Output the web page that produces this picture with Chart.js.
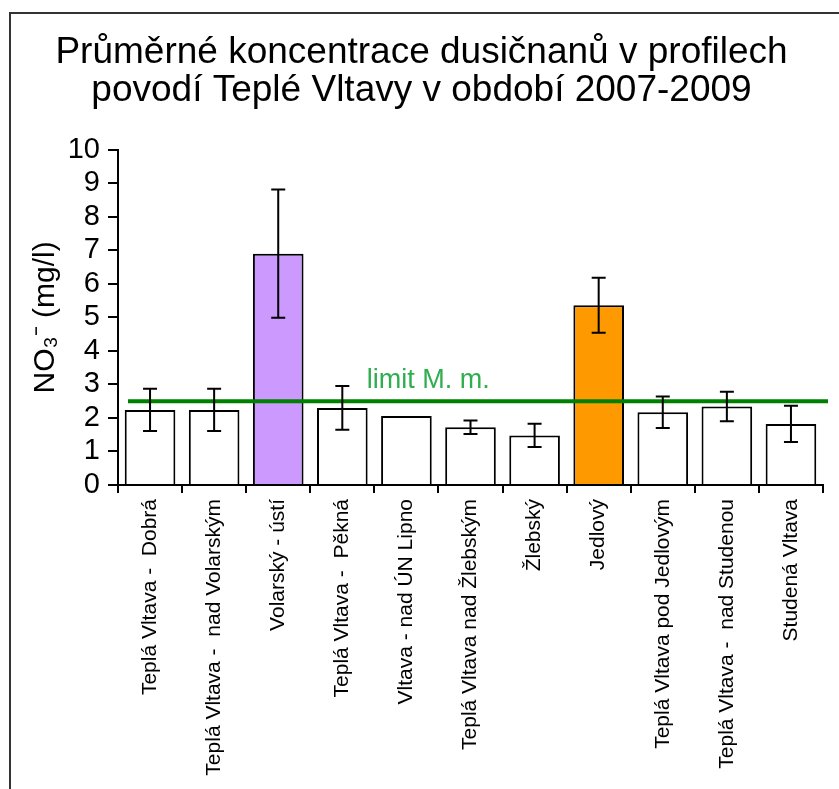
<!DOCTYPE html>
<html lang="cs">
<head>
<meta charset="UTF-8">
<title>Průměrné koncentrace dusičnanů</title>
<script src="https://cdn.jsdelivr.net/npm/chart.js"></script>
<style>
  body { margin: 0; background: #fff; }
</style>
</head>
<body>
<canvas id="chart" width="839" height="789"></canvas>
<script>
// profily (kategorie na ose x)
const categories = [
  "Teplá Vltava -  Dobrá",
  "Teplá Vltava -  nad Volarským",
  "Volarský - ústí",
  "Teplá Vltava -  Pěkná",
  "Vltava - nad ÚN Lipno",
  "Teplá Vltava nad Žlebským",
  "Žlebský",
  "Jedlový",
  "Teplá Vltava pod Jedlovým",
  "Teplá Vltava -  nad Studenou",
  "Studená Vltava"
];
// průměr NO3- (mg/l) a směrodatná odchylka
const means  = [2.24, 2.24, 6.90, 2.30, 2.06, 1.72, 1.48, 5.36, 2.17, 2.34, 1.82];
const errors = [0.63, 0.63, 1.91, 0.65, 0,    0.20, 0.35, 0.82, 0.47, 0.44, 0.54];
const limitValue = 2.5;
const limitLabel = "limit M. m.";
const yTicks = [0, 1, 2, 3, 4, 5, 6, 7, 8, 9, 10];

const FONT = "'Liberation Sans', Arial, sans-serif";

function barColor(i) {
  if (categories[i] === "Volarský - ústí") return "#cc99ff";
  if (categories[i] === "Jedlový") return "#ff9900";
  return "#ffffff";
}

// ramecek kolem grafu
const framePlugin = {
  id: "frame",
  beforeDraw(chart) {
    const ctx = chart.ctx;
    ctx.save();
    ctx.strokeStyle = "#333";
    ctx.lineWidth = 2;
    ctx.beginPath();
    ctx.moveTo(10, chart.height);
    ctx.lineTo(10, 13);
    ctx.lineTo(chart.width, 13);
    ctx.stroke();
    ctx.restore();
  }
};

// chybove usecky + limit
const errorBarPlugin = {
  id: "errorBars",
  afterDatasetsDraw(chart) {
    const ctx = chart.ctx;
    const x = chart.scales.x, y = chart.scales.y;
    const area = chart.chartArea;
    ctx.save();

    // limit M. m.
    const ly = y.getPixelForValue(limitValue);
    ctx.strokeStyle = "#008000";
    ctx.lineWidth = 4;
    ctx.beginPath();
    ctx.moveTo(area.left + 10, ly);
    ctx.lineTo(area.right + 5, ly);
    ctx.stroke();
    ctx.fillStyle = "#2fae4f";
    ctx.font = "27px " + FONT;
    ctx.textAlign = "center";
    ctx.textBaseline = "alphabetic";
    ctx.fillText(limitLabel, area.left + (area.right - area.left) * 0.44, ly - 13);

    ctx.strokeStyle = "#000";
    ctx.lineWidth = 2;
    means.forEach((m, i) => {
      if (!errors[i]) return;
      const cx = x.getPixelForValue(i);
      const top = y.getPixelForValue(m + errors[i]);
      const bot = y.getPixelForValue(m - errors[i]);
      ctx.beginPath();
      ctx.moveTo(cx, top); ctx.lineTo(cx, bot);
      ctx.moveTo(cx - 7, top); ctx.lineTo(cx + 7, top);
      ctx.moveTo(cx - 7, bot); ctx.lineTo(cx + 7, bot);
      ctx.stroke();
    });
    ctx.restore();
  }
};

new Chart(document.getElementById("chart"), {
  type: "bar",
  data: {
    labels: categories,
    datasets: [{
      data: means,
      backgroundColor: means.map((v, i) => barColor(i)),
      borderColor: "#000",
      borderWidth: 2,
      barPercentage: 0.79,
      categoryPercentage: 1.0
    }]
  },
  options: {
    responsive: false,
    devicePixelRatio: 1,
    animation: false,
    layout: { padding: { left: 20, top: 20, right: 16, bottom: 0 } },
    plugins: {
      legend: { display: false },
      tooltip: { enabled: false },
      title: {
        display: true,
        text: ["Průměrné koncentrace dusičnanů v profilech", "povodí Teplé Vltavy v období 2007-2009"],
        color: "#000",
        font: { family: FONT, size: 37, weight: "normal", lineHeight: 1.05 },
        padding: { top: 13, bottom: 39 }
      }
    },
    scales: {
      x: {
        offset: true,
        border: { color: "#000", width: 2 },
        grid: { offset: true, drawOnChartArea: false, color: "#000", lineWidth: 2, tickLength: 8 },
        ticks: {
          color: "#000",
          font: { family: FONT, size: 21 },
          maxRotation: 90,
          minRotation: 90,
          autoSkip: false,
          padding: 6
        },
        afterFit(scale) { scale.height = 304; }
      },
      y: {
        min: 0,
        max: 10,
        border: { color: "#000", width: 2 },
        grid: { drawOnChartArea: false, color: "#000", lineWidth: 2, tickLength: 10 },
        afterBuildTicks(scale) { scale.ticks = yTicks.map(v => ({ value: v })); },
        ticks: {
          color: "#000",
          font: { family: FONT, size: 29 },
          autoSkip: false,
          padding: 8
        },
        title: {
          display: true,
          text: "NO₃⁻ (mg/l)",
          color: "#000",
          font: { family: FONT, size: 30 },
          padding: { top: 8, bottom: 0 }
        },
        afterFit(scale) { scale.width = 98; }
      }
    }
  },
  plugins: [framePlugin, errorBarPlugin]
});
</script>
</body>
</html>
